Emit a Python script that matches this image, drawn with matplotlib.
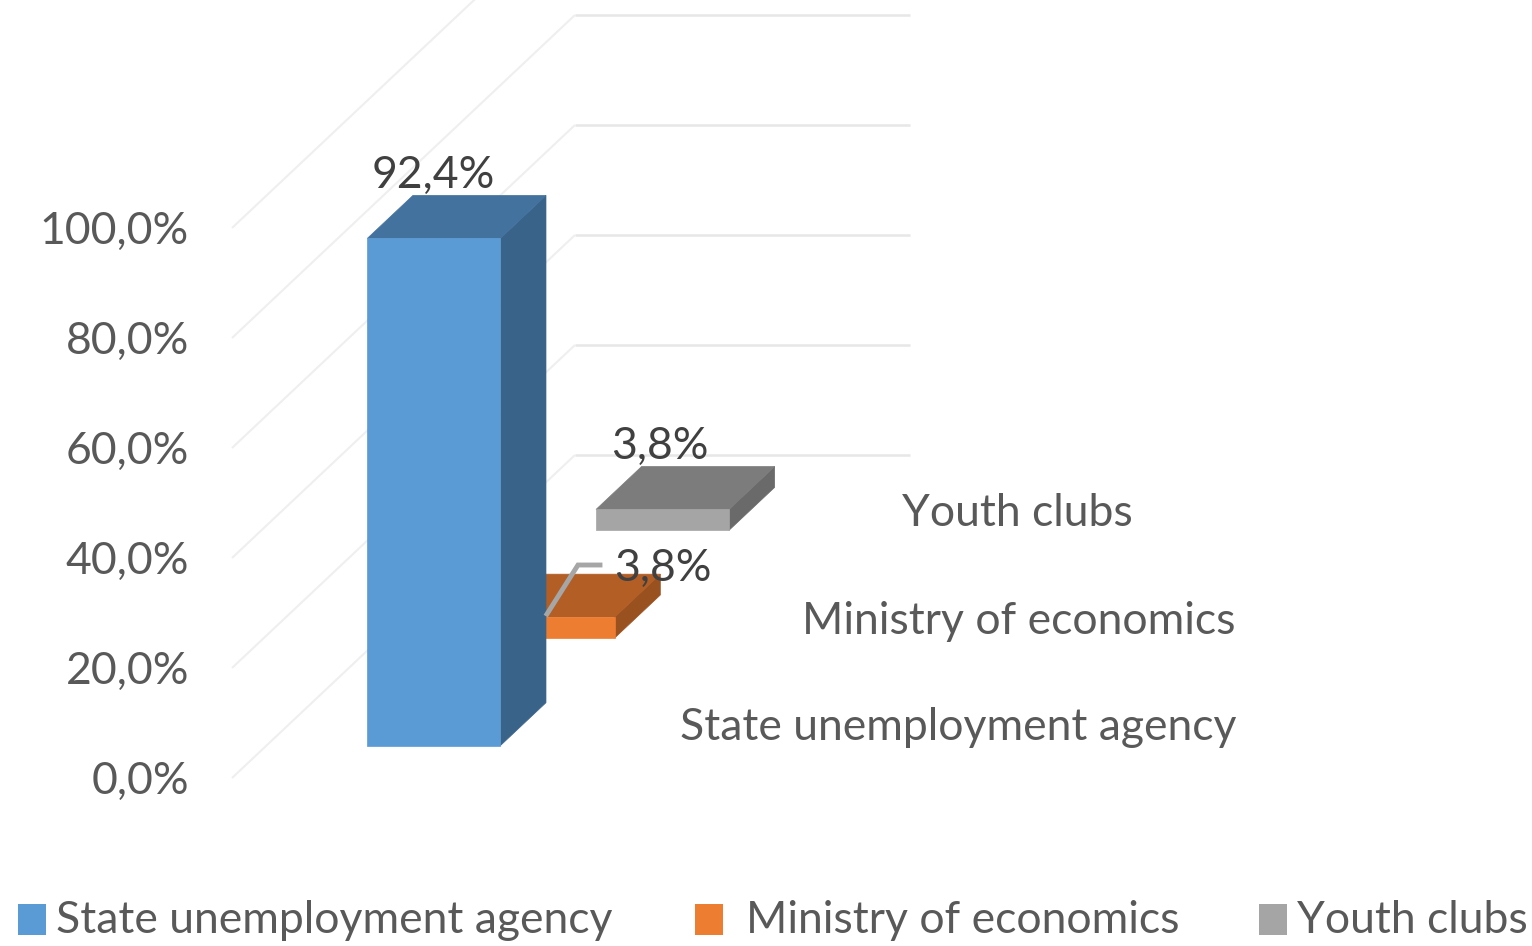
import matplotlib
matplotlib.use('Agg')
import matplotlib.pyplot as plt
from matplotlib.patches import Polygon, Rectangle

plt.rcParams['font.family'] = ['Lato', 'DejaVu Sans']

categories = ['State unemployment agency', 'Ministry of economics', 'Youth clubs']
values = [92.4, 3.8, 3.8]
value_labels = ['92,4%', '3,8%', '3,8%']
ticks = [0, 20, 40, 60, 80, 100]
tick_labels = ['0,0%', '20,0%', '40,0%', '60,0%', '80,0%', '100,0%']

front_cols = ['#5B9BD5', '#ED7D31', '#A5A5A5']
top_cols = ['#44729E', '#B25E25', '#7C7C7C']
side_cols = ['#3A6389', '#9A5120', '#6A6A6A']
text_col = '#595959'

# pixel frame of the fake 3d box
x0, y0 = 232, 778
depth_x, depth_y = 343, 323
wall_w = 335
px_per_pct = 5.49
grid_step = 5.5
bar_w = 133
bar_d = 0.133
font_size = 32

def proj(x, val, d):
  return (x0 + x + depth_x * d, y0 - val * px_per_pct - depth_y * d)

def grid_pt(x, val, d):
  return (x0 + x + depth_x * d, y0 - val * grid_step - depth_y * d)

fig = plt.figure(figsize=(15.32, 9.46), dpi=100)
ax = fig.add_axes([0, 0, 1, 1])
ax.set_xlim(0, 1532)
ax.set_ylim(946, 0)
ax.axis('off')

# gridlines, floor side and back wall
for t, lab in zip(ticks, tick_labels):
  a = grid_pt(0, t, 0)
  b = grid_pt(0, t, 1)
  c = grid_pt(wall_w, t, 1)
  ax.plot([a[0], b[0]], [a[1], b[1]], color='#EFEFEF', lw=1.5, zorder=1, solid_capstyle='butt')
  ax.plot([b[0], c[0]], [b[1], c[1]], color='#E7E7E7', lw=1.8, zorder=1, solid_capstyle='butt')
  ax.text(189, a[1] + 3, lab, ha='right', va='center', fontsize=font_size, color=text_col, zorder=5)

# back to front so nearer bars cover further ones
for i in [2, 1, 0]:
  v = values[i]
  n = len(values)
  d0 = (i + 0.5) / n - bar_d / 2
  d1 = d0 + bar_d
  xl = wall_w / 2 - bar_w / 2
  xr = xl + bar_w
  z = 2 + (n - i)
  faces = [
    ([proj(xr, 0, d0), proj(xr, 0, d1), proj(xr, v, d1), proj(xr, v, d0)], side_cols[i]),
    ([proj(xl, v, d0), proj(xr, v, d0), proj(xr, v, d1), proj(xl, v, d1)], top_cols[i]),
    ([proj(xl, 0, d0), proj(xr, 0, d0), proj(xr, v, d0), proj(xl, v, d0)], front_cols[i]),
  ]
  for pts, col in faces:
    ax.add_patch(Polygon(pts, fc=col, ec=col, lw=0.5, zorder=z))

# leader line of the middle label
ax.plot([547, 578, 600], [614, 565, 565], color='#A6A6A6', lw=3.5, zorder=6, solid_joinstyle='miter')

label_pos = [(433, 175), (663, 568), (660, 446)]
for (lx, ly), s in zip(label_pos, value_labels):
  ax.text(lx, ly, s, ha='center', va='center', fontsize=font_size, color='#404040', zorder=7)

# category labels on the depth axis
cat_pos = [(1237, 727), (1235, 621), (1133, 513)]
for (lx, ly), s in zip(cat_pos, categories):
  ax.text(lx, ly, s, ha='right', va='center', fontsize=font_size, color=text_col, zorder=7)

# legend
leg_sw = [18, 695, 1259]
leg_tx = [56, 746, 1297]
for sx, tx, s, c in zip(leg_sw, leg_tx, categories, front_cols):
  ax.add_patch(Rectangle((sx, 904), 28, 31, fc=c, ec='none'))
  ax.text(tx, 920, s, ha='left', va='center', fontsize=font_size, color=text_col)

fig.savefig('out.png', dpi=100)
